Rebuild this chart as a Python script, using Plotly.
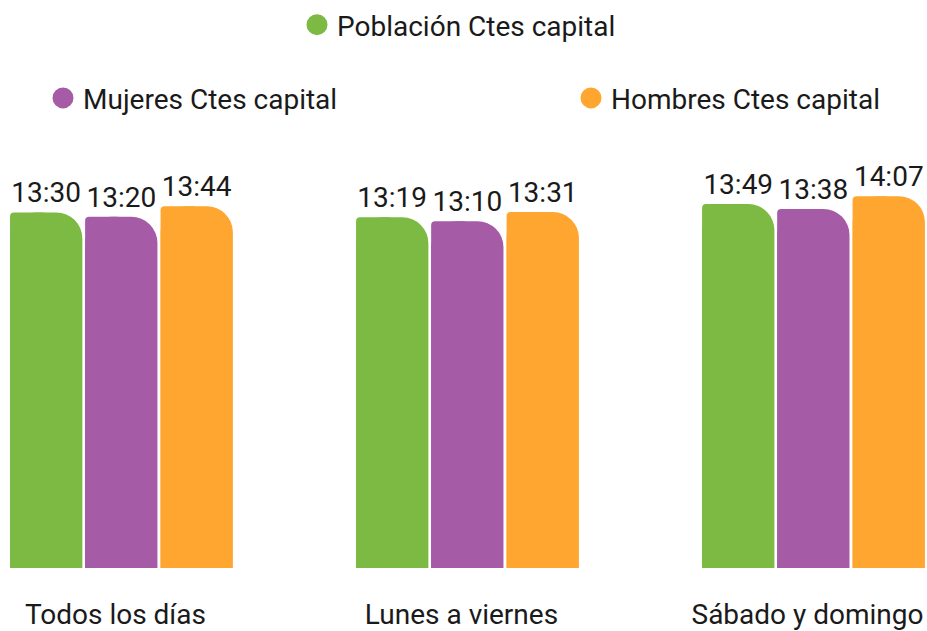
import plotly.graph_objects as go

# franjas de dias y hora media (hh:mm) por grupo
categorias = ["Todos los días", "Lunes a viernes", "Sábado y domingo"]
poblacion = ["13:30", "13:19", "13:49"]
mujeres = ["13:20", "13:10", "13:38"]
hombres = ["13:44", "13:31", "14:07"]

series = [
    ("Población Ctes capital", poblacion, "#7cba43", -0.322, "legend"),
    ("Mujeres Ctes capital", mujeres, "#a55ba6", -0.105, "legend2"),
    ("Hombres Ctes capital", hombres, "#fea62f", 0.113, "legend3"),
]


def minutos(hhmm):
    h, m = hhmm.split(":")
    return int(h) * 60 + int(m)


ancho = 0.209
fig = go.Figure()

for nombre, horas, color, desplaz, leyenda in series:
    y = [minutos(h) for h in horas]
    # barra completa con esquina derecha redondeada
    fig.add_trace(go.Bar(
        x=categorias, y=y, offset=desplaz, width=ancho,
        marker=dict(color=color, cornerradius=26, line=dict(width=0)),
        text=horas, textposition="outside", cliponaxis=False,
        textfont=dict(size=28, color="#1a1a1a"),
        name=nombre, showlegend=False))
    # mitad izquierda con esquina casi recta
    fig.add_trace(go.Bar(
        x=categorias, y=y, offset=desplaz, width=ancho / 2,
        marker=dict(color=color, cornerradius=4, line=dict(width=0)),
        showlegend=False, hoverinfo="skip"))
    # marcador circular para la leyenda
    fig.add_trace(go.Scatter(
        x=[None], y=[None], mode="markers", name=nombre,
        marker=dict(color=color, size=16, symbol="circle",
                    line=dict(color=color, width=5)),
        legend=leyenda))

leg = dict(orientation="h", yanchor="middle", xanchor="left",
           font=dict(size=28, color="#1a1a1a"), itemwidth=30,
           bgcolor="rgba(0,0,0,0)")

fig.update_layout(
    width=927, height=631,
    margin=dict(l=0, r=0, t=130, b=63),
    barmode="overlay",
    paper_bgcolor="white", plot_bgcolor="white",
    font=dict(family="Roboto", size=28, color="#1a1a1a"),
    legend=dict(leg, x=297 / 927, y=(568 - 21) / 438),
    legend2=dict(leg, x=43 / 927, y=(568 - 95) / 438),
    legend3=dict(leg, x=571 / 927, y=(568 - 95) / 438),
    xaxis=dict(range=[-0.351, 2.328], showgrid=False, zeroline=False,
               showline=False, ticks="", ticklabelstandoff=27,
               ticklabelshift=-6, tickfont=dict(size=28, color="#1a1a1a")),
    yaxis=dict(range=[0, 991], visible=False),
)

# sin el margen por defecto del body ni barra de herramientas
fig.write_html(
    "out.html",
    config={"displayModeBar": False},
    post_script="document.body.style.margin='0';"
                "document.body.style.overflow='hidden';")
